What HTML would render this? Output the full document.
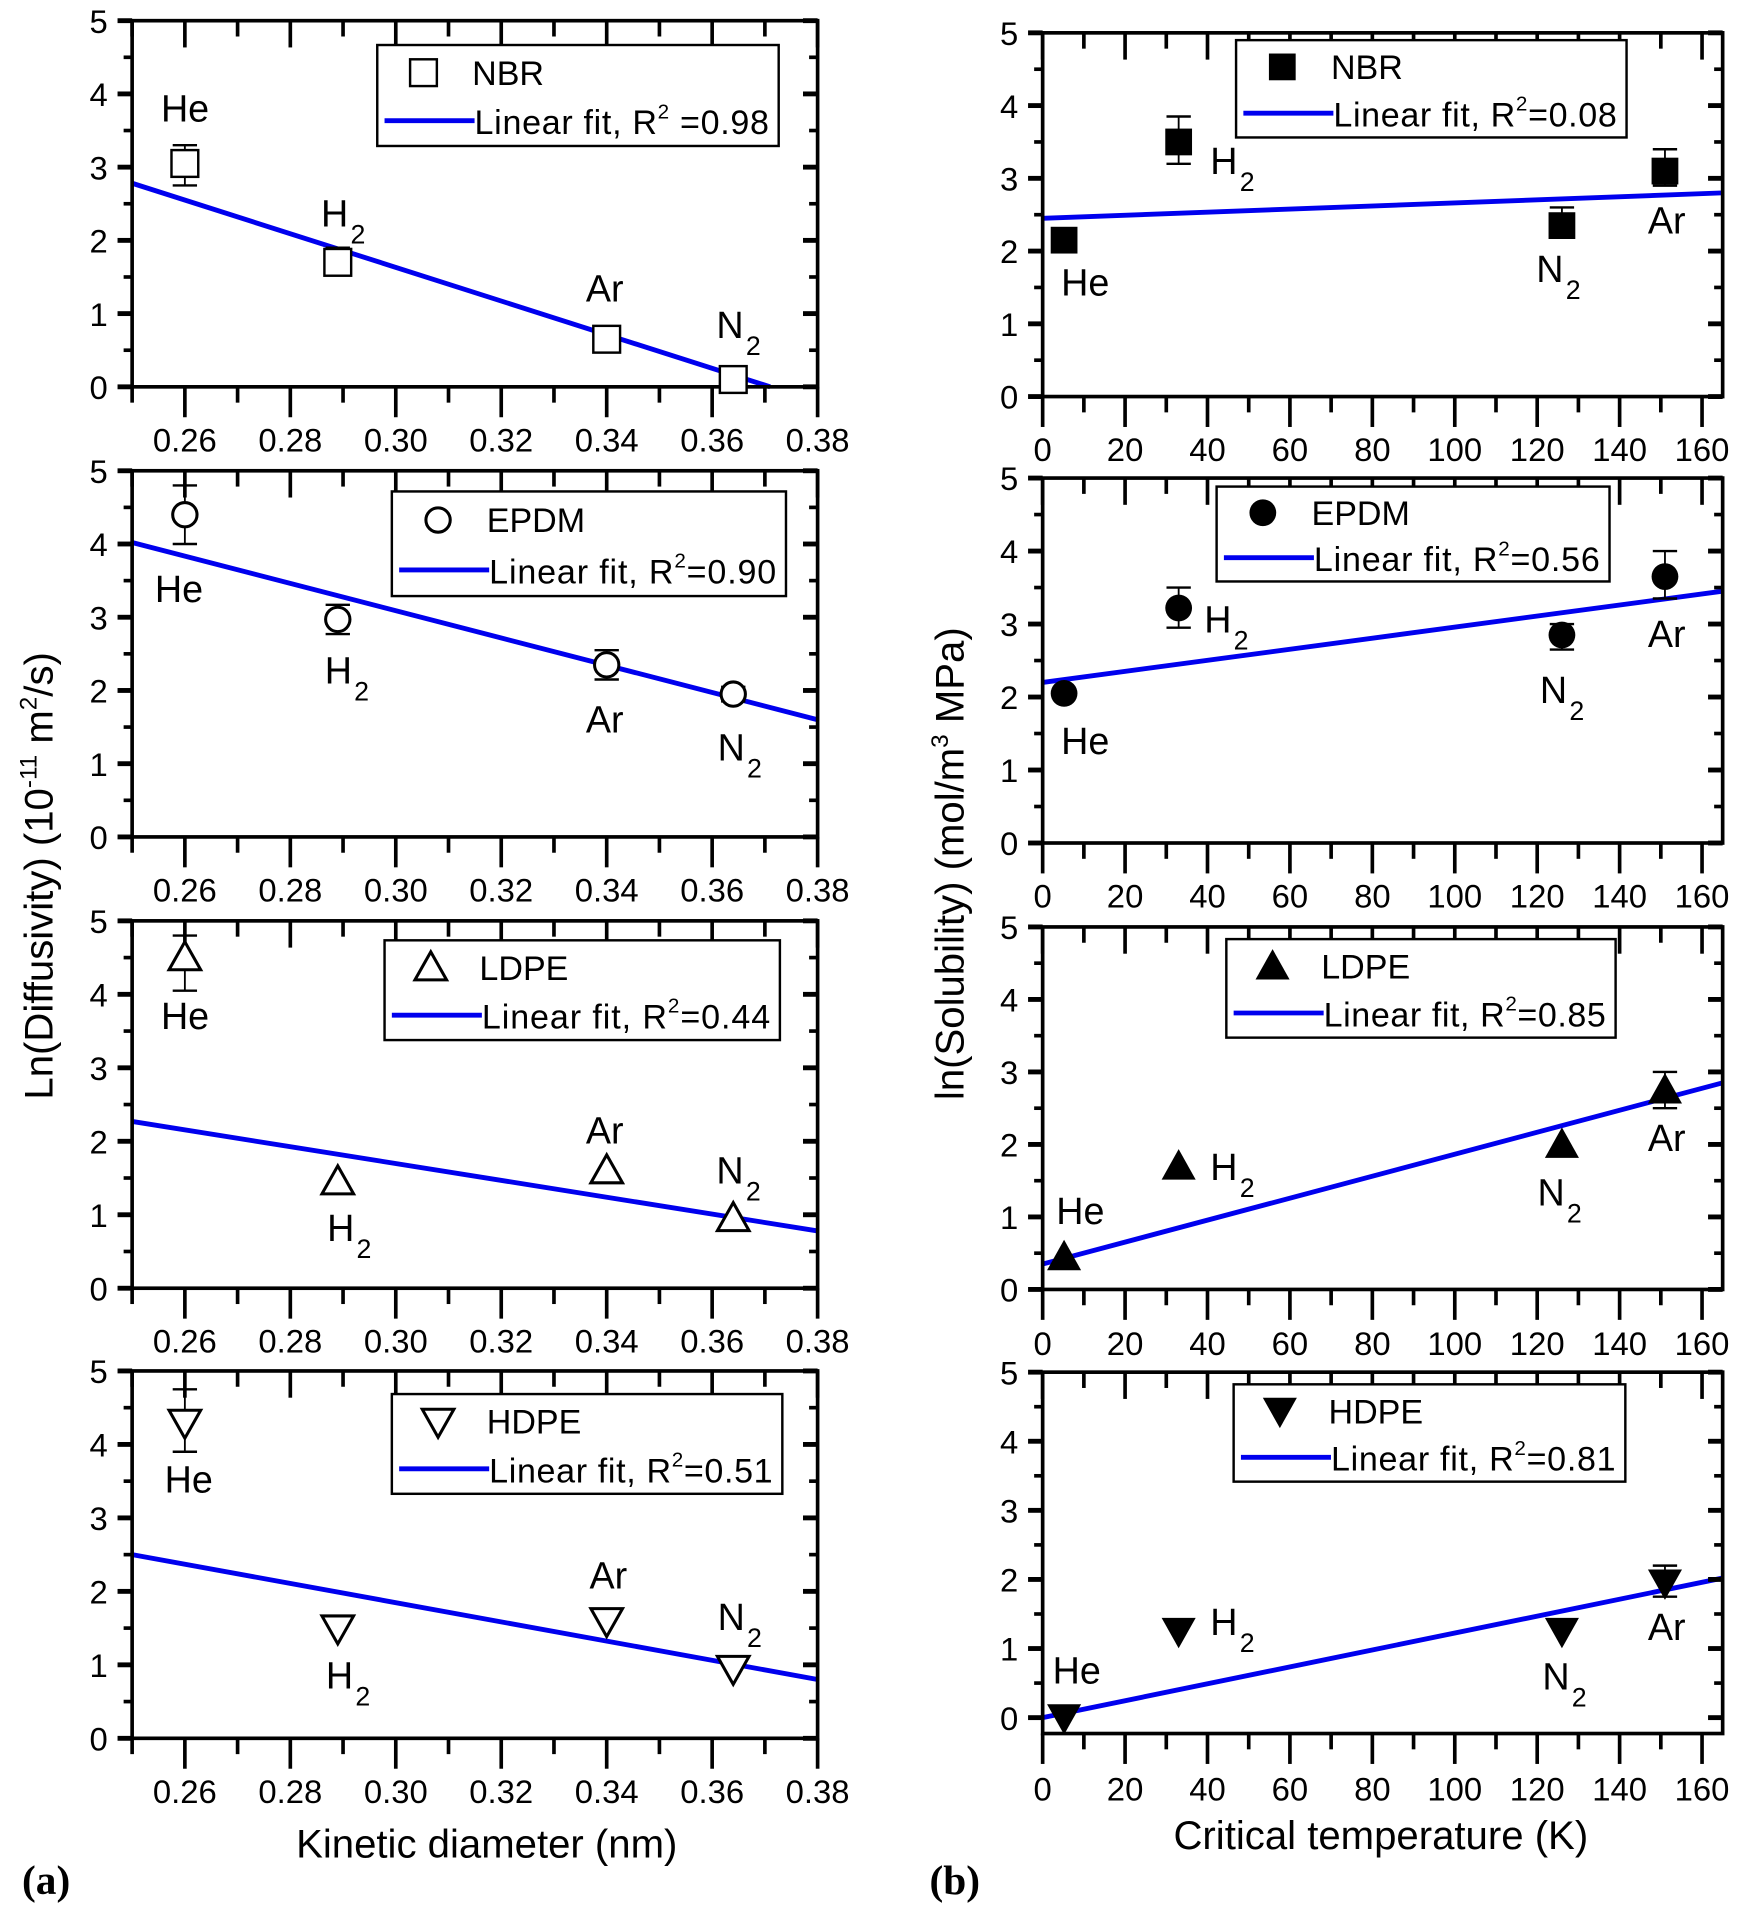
<!DOCTYPE html>
<html><head><meta charset="utf-8"><style>
html,body{margin:0;padding:0;background:#fff;}
svg{display:block;}
text{font-family:"Liberation Sans",Arial,sans-serif;fill:#000;}
</style></head><body>
<svg id="s" width="1752" height="1922" viewBox="0 0 1440 1580" xmlns="http://www.w3.org/2000/svg"></svg>
<script>
const s=document.getElementById('s');let h='';
function L(x1,y1,x2,y2,w,c){h+=`<line x1="${x1}" y1="${y1}" x2="${x2}" y2="${y2}" stroke="${c||'#000'}" stroke-width="${w||2}"/>`;}
function T(x,y,t,fs,anc,extra){h+=`<text x="${x}" y="${y}" font-size="${fs}" text-anchor="${anc||'middle'}" ${extra||''}>${t}</text>`;}
function lab(x,y,t){ if(t.endsWith('2')){const b=t.slice(0,-1);T(x,y,b,31,'middle');T(x+ (b.length*9)+4,y+14,'2',22,'start');} else T(x,y,t,31,'middle');}
function marker(type,x,y){
 const r=11;
 if(type=='sq')h+=`<rect x="${x-r}" y="${y-r}" width="${2*r}" height="${2*r}" fill="#fff" stroke="#000" stroke-width="2"/>`;
 if(type=='ci')h+=`<circle cx="${x}" cy="${y}" r="${r-1}" fill="#fff" stroke="#000" stroke-width="2.5"/>`;
 if(type=='tu')h+=`<polygon points="${x},${y-13} ${x-13},${y+10} ${x+13},${y+10}" fill="#fff" stroke="#000" stroke-width="2.5"/>`;
 if(type=='td')h+=`<polygon points="${x},${y+13} ${x-13},${y-10} ${x+13},${y-10}" fill="#fff" stroke="#000" stroke-width="2.5"/>`;
 if(type=='SQ')h+=`<rect x="${x-r}" y="${y-r}" width="${2*r}" height="${2*r}" fill="#000"/>`;
 if(type=='CI')h+=`<circle cx="${x}" cy="${y}" r="${r}" fill="#000"/>`;
 if(type=='TU')h+=`<polygon points="${x},${y-14} ${x-14},${y+11} ${x+14},${y+11}" fill="#000"/>`;
 if(type=='TD')h+=`<polygon points="${x},${y+14} ${x-14},${y-11} ${x+14},${y-11}" fill="#000"/>`;
}
function panel(o){
 const X=v=>o.x0+(v-o.xmin)/(o.xmax-o.xmin)*(o.x1-o.x0);
 const Y=v=>o.y0+(v)*(o.y5-o.y0)/5;
 const bot=Y(o.ymin);
 // fit line
 L(X(o.fit[0]),Y(o.fit[1]),X(o.fit[2]),Y(o.fit[3]),4,'#0000ee');
 // box
 h+=`<rect x="${o.x0}" y="${o.y5}" width="${o.x1-o.x0}" height="${bot-o.y5}" fill="none" stroke="#000" stroke-width="3"/>`;
 // y ticks
 for(let v=0;v<=5;v+=0.5){const y=Y(v),mj=v%1==0;L(o.x0-(mj?12:7),y,o.x0,y,mj?4:3);L(o.x1,y,o.x1-(mj?12:7),y,mj?4:3);
  if(mj)T(o.x0-20,y+10,v,27,'end','font-stretch="condensed"');}
 for(const [v,mj] of o.xt){const x=X(v);L(x,bot,x,bot+(mj?25:13),3);L(x,o.y5,x,o.y5+(mj?22:13),3);
  if(mj)T(x,o.tl,o.fmt(v),27,'middle');}
 // points
 for(const p of o.pts){const x=X(p[0]),y=Y(p[1]);
  if(p[2]!=null){L(x,Y(p[2]),x,Y(p[3]),1.5);L(x-10,Y(p[2]),x+10,Y(p[2]),2);L(x-10,Y(p[3]),x+10,Y(p[3]),2);}
  marker(o.m,x,y);}
 for(const l of o.labs)lab(l[0],l[1],l[2]);
 // legend
 const [a,b,c,d]=o.leg;
 h+=`<rect x="${a}" y="${b}" width="${c-a}" height="${d-b}" fill="#fff" stroke="#000" stroke-width="2"/>`;
 const m=(b+d)/2;
 marker(o.m,a+38,b+(m-b)/2+2);
 T(a+78,b+(m-b)/2+12,o.name,28,'start');
 L(a+6,m+(d-m)/2,a+80,m+(d-m)/2,4,'#0000ee');
 T(a+80,m+(d-m)/2+11,`Linear fit, R<tspan font-size="17" dy="-13">2</tspan><tspan dy="13">${o.r2}</tspan>`,28,'start','textLength="'+(c-a-88)+'"');
}
const lf=v=>v.toFixed(2), rf=v=>v;
const lxt=[];for(let i=25;i<=38;i++)lxt.push([i/100,i%2==0]);
const rxt=[];for(let i=0;i<=160;i+=10)rxt.push([i,i%20==0]);
const LX={x0:108.5,x1:672,xmin:0.25,xmax:0.38,xt:lxt,fmt:lf,ymin:0};
const RX={x0:857,x1:1416,xmin:0,xmax:165,xt:rxt,fmt:rf,ymin:0};
const xs=[0.26,0.289,0.34,0.364], rs=[5.2,33,126,151];
panel({...LX,y5:17,y0:318,tl:371,m:'sq',name:'NBR',r2:' =0.98',leg:[310,37,640,120],fit:[0.25,2.78,0.371,0],
 pts:[[.26,3.05,2.75,3.3],[.289,1.7,1.55,1.9],[.34,0.65,0.5,0.8],[.364,0.1,0,0.2]],
 labs:[[152,100,'He'],[275,186,'H2'],[497,248,'Ar'],[600,278,'N2']]});
panel({...LX,y5:387,y0:688,tl:741,m:'ci',name:'EPDM',r2:'=0.90',leg:[322,404,646,490],fit:[0.25,4.02,0.38,1.6],
 pts:[[.26,4.4,4.0,4.8],[.289,2.97,2.77,3.17],[.34,2.35,2.15,2.55],[.364,1.95,1.85,2.05]],
 labs:[[147,495,'He'],[278,562,'H2'],[497,602,'Ar'],[601,625,'N2']]});
panel({...LX,y5:757,y0:1059,tl:1112,m:'tu',name:'LDPE',r2:'=0.44',leg:[316,773,641,855],fit:[0.25,2.27,0.38,0.78],
 pts:[[.26,4.5,4.05,4.8],[.289,1.45,null],[.34,1.6,null],[.364,0.95,null]],
 labs:[[152,846,'He'],[280,1020,'H2'],[497,940,'Ar'],[600,973,'N2']]});
panel({...LX,y5:1127,y0:1429,tl:1482,m:'td',name:'HDPE',r2:'=0.51',leg:[322,1146,643,1228],fit:[0.25,2.5,0.38,0.8],
 pts:[[.26,4.3,3.9,4.75],[.289,1.5,null],[.34,1.6,null],[.364,0.95,null]],
 labs:[[155,1227,'He'],[279,1388,'H2'],[500,1306,'Ar'],[601,1340,'N2']]});
panel({...RX,y5:27,y0:326,tl:379,m:'SQ',name:'NBR',r2:'=0.08',leg:[1016,33,1337,113],fit:[0,2.45,165,2.8],
 pts:[[5.2,2.15,null],[33,3.5,3.2,3.85],[126,2.35,2.2,2.6],[151,3.1,2.9,3.4]],
 labs:[[892,243,'He'],[1006,143,'H2'],[1274,232,'N2'],[1370,192,'Ar']]});
panel({...RX,y5:393,y0:693,tl:746,m:'CI',name:'EPDM',r2:'=0.56',leg:[1000,400,1323,478],fit:[0,2.2,165,3.45],
 pts:[[5.2,2.05,null],[33,3.22,2.95,3.5],[126,2.85,2.65,3.0],[151,3.65,3.35,4.0]],
 labs:[[892,620,'He'],[1001,520,'H2'],[1277,578,'N2'],[1370,532,'Ar']]});
panel({...RX,y5:762,y0:1060,tl:1114,m:'TU',name:'LDPE',r2:'=0.85',leg:[1008,772,1328,853],fit:[0,0.35,165,2.85],
 pts:[[5.2,0.45,null],[33,1.7,null],[126,2.0,null],[151,2.75,2.5,3.0]],
 labs:[[888,1006,'He'],[1006,970,'H2'],[1275,991,'N2'],[1370,946,'Ar']]});
panel({...RX,y5:1128,y0:1412,ymin:-0.23,tl:1480,m:'TD',name:'HDPE',r2:'=0.81',leg:[1014,1138,1336,1218],fit:[0,0,165,2.02],
 pts:[[5.2,0.0,null],[33,1.25,null],[126,1.25,null],[151,1.95,1.75,2.2]],
 labs:[[885,1384,'He'],[1006,1344,'H2'],[1279,1389,'N2'],[1370,1348,'Ar']]});
// axis titles
T(400,1527,'Kinetic diameter (nm)',33);
T(1135,1520,'Critical temperature (K)',33);
h+=`<text x="0" y="0" font-size="33" text-anchor="middle" transform="translate(43,720) rotate(-90)">Ln(Diffusivity) (10<tspan font-size="20" dy="-13">-11</tspan><tspan dy="13"> m</tspan><tspan font-size="20" dy="-13">2</tspan><tspan dy="13">/s)</tspan></text>`;
h+=`<text x="0" y="0" font-size="33" text-anchor="middle" transform="translate(792,710) rotate(-90)">ln(Solubility) (mol/m<tspan font-size="20" dy="-13">3</tspan><tspan dy="13"> MPa)</tspan></text>`;
h+=`<text x="18" y="1557" font-size="34" font-weight="bold" style="font-family:'Liberation Serif',serif">(a)</text>`;
h+=`<text x="764" y="1557" font-size="34" font-weight="bold" style="font-family:'Liberation Serif',serif">(b)</text>`;
s.innerHTML=h;
</script>
</body></html>
